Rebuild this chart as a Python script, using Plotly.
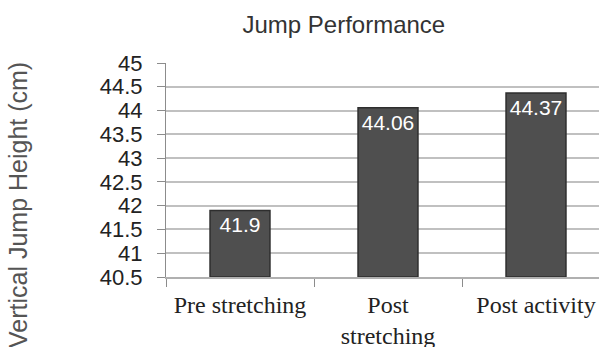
import plotly.graph_objects as go

categories = ["Pre stretching", "Post<br>stretching", "Post activity"]
values = [41.9, 44.06, 44.37]
value_labels = ["41.9", "44.06", "44.37"]
y_base = 40.5
y_ticks = [40.5, 41, 41.5, 42, 42.5, 43, 43.5, 44, 44.5, 45]
y_tick_labels = ["40.5", "41", "41.5", "42", "42.5", "43", "43.5", "44", "44.5", "45"]

fig = go.Figure(
    go.Bar(
        x=categories,
        y=[v - y_base for v in values],
        base=y_base,
        width=0.405,
        text=value_labels,
        textposition="inside",
        insidetextanchor="end",
        constraintext="none",
        textfont=dict(family="Liberation Sans, Arial", size=21, color="white"),
        marker=dict(color="#4f4f4f", line=dict(color="#2e2e2e", width=1.5)),
    )
)

fig.update_layout(
    width=599,
    height=347,
    margin=dict(l=166, r=0, t=63, b=70),
    paper_bgcolor="white",
    plot_bgcolor="white",
    showlegend=False,
    title=dict(
        text="Jump Performance",
        x=0.574,
        xanchor="center",
        y=1 - 25 / 347,
        yanchor="middle",
        font=dict(family="Liberation Sans, Arial", size=24, color="#333333"),
    ),
    annotations=[
        dict(
            text="Vertical Jump Height (cm)",
            textangle=-90,
            xref="paper",
            yref="paper",
            x=(18 - 166) / 433,
            y=(277 - 205) / 214,
            xanchor="center",
            yanchor="middle",
            showarrow=False,
            font=dict(family="Liberation Sans, Arial", size=25, color="#555555"),
        )
    ],
)

fig.update_yaxes(
    range=[40.5, 45],
    tickvals=y_ticks,
    ticktext=y_tick_labels,
    automargin=False,
    showgrid=True,
    gridcolor="#c0c0c0",
    gridwidth=1.5,
    zeroline=False,
    showline=True,
    linecolor="#8c8c8c",
    linewidth=1,
    ticks="outside",
    ticklen=8,
    tickcolor="#8c8c8c",
    ticklabelstandoff=10,
    tickfont=dict(family="Liberation Sans, Arial", size=22, color="#222222"),
)

fig.update_xaxes(
    type="category",
    range=[-0.5, -0.5 + 433 / 148],
    automargin=False,
    showline=True,
    linecolor="#b0b0b0",
    linewidth=1.5,
    ticks="outside",
    tickson="boundaries",
    ticklen=8,
    tickcolor="#8c8c8c",
    showgrid=False,
    ticklabelstandoff=5,
    tickfont=dict(family="Liberation Serif, Times New Roman", size=24, color="#222222"),
)

fig.write_html(
    "out.html",
    config={"displayModeBar": False},
    post_script="document.body.style.margin='0';document.body.style.padding='0';",
)
